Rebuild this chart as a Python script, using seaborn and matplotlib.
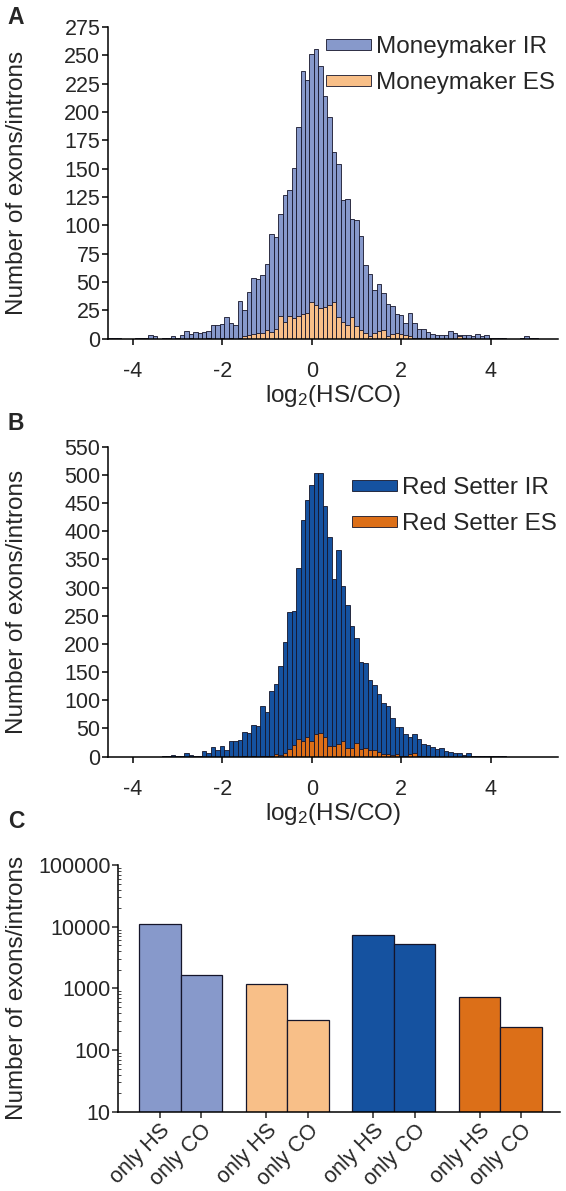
import numpy as np
import pandas as pd
import seaborn as sns
import matplotlib.pyplot as plt
from matplotlib.ticker import FixedLocator, FixedFormatter, LogLocator, NullFormatter

sns.set_style("ticks")
plt.rcParams['font.family'] = ['Liberation Sans', 'DejaVu Sans']
plt.rcParams['mathtext.default'] = 'regular'

# bins of log2(HS/CO), width 0.1, centred on -4.5 ... 5.0
bin_centers = np.round(np.arange(-45, 51) / 10, 1)

# A - Moneymaker
mm_ir = [1, 1, 1, 0, 0, 0, 1, 1, 1, 3,
         2, 0, 1, 1, 2, 1, 3, 7, 4, 6,
         5, 6, 7, 12, 12, 13, 19, 14, 12, 33,
         25, 41, 54, 53, 56, 66, 92, 90, 110, 127,
         131, 151, 187, 236, 228, 251, 256, 241, 214, 196,
         165, 154, 122, 123, 106, 105, 91, 65, 57, 43,
         48, 40, 31, 29, 22, 21, 14, 23, 14, 9,
         9, 6, 4, 3, 3, 3, 7, 5, 3, 3,
         3, 2, 4, 2, 3, 1, 1, 1, 1, 0,
         0, 0, 1, 2, 1, 1]
mm_es = [0, 0, 0, 0, 0, 0, 0, 0, 0, 0,
         0, 0, 0, 0, 0, 0, 0, 0, 1, 0,
         0, 0, 1, 0, 0, 1, 0, 1, 0, 1,
         2, 3, 4, 5, 5, 8, 6, 9, 20, 15,
         20, 18, 20, 22, 23, 32, 30, 27, 28, 30,
         32, 19, 15, 12, 19, 11, 8, 5, 2, 5,
         7, 8, 2, 4, 5, 4, 3, 2, 1, 1,
         0, 1, 0, 1, 0, 0, 0, 0, 2, 1,
         0, 0, 0, 0, 0, 0, 0, 0, 0, 0,
         0, 0, 0, 0, 0, 0]

# B - Red Setter
rs_ir = [0, 0, 0, 0, 0, 0, 0, 0, 0, 0,
         0, 0, 1, 2, 3, 2, 1, 6, 3, 1,
         2, 10, 6, 17, 11, 18, 11, 27, 27, 30,
         44, 42, 56, 54, 90, 80, 117, 128, 160, 204,
         256, 259, 334, 420, 456, 482, 503, 503, 445, 390,
         316, 366, 302, 269, 231, 211, 168, 166, 136, 127,
         112, 95, 89, 68, 52, 53, 40, 34, 40, 31,
         22, 20, 17, 14, 16, 10, 9, 6, 7, 3,
         6, 1, 2, 2, 1, 2, 1, 1, 2, 0,
         0, 0, 0, 0, 0, 0]
rs_es = [0, 0, 0, 0, 0, 0, 0, 0, 0, 0,
         0, 0, 0, 0, 0, 0, 0, 0, 0, 0,
         0, 0, 0, 0, 0, 0, 0, 0, 0, 0,
         2, 0, 1, 0, 1, 1, 2, 4, 3, 7,
         14, 20, 31, 28, 34, 28, 40, 42, 34, 19,
         19, 22, 27, 16, 16, 24, 13, 16, 12, 11,
         9, 5, 5, 3, 4, 1, 2, 5, 6, 2,
         1, 1, 0, 0, 0, 0, 0, 0, 0, 0,
         0, 0, 0, 0, 0, 0, 0, 0, 0, 0,
         0, 0, 0, 0, 0, 0]

# C - exons/introns found in one condition only
c_groups = ['MM IR', 'MM ES', 'RS IR', 'RS ES']
c_only_hs = [11000, 1180, 7400, 730]
c_only_co = [1630, 308, 5300, 240]

col_mm_ir = '#8799CB'
col_mm_es = '#F8BF88'
col_rs_ir = '#1552A0'
col_rs_es = '#DC6F18'
edge = '#15152a'

fig = plt.figure(figsize=(5.66, 11.91), dpi=100)
axA = fig.add_axes([0.1908, 0.7156, 0.795, 0.2617])
axB = fig.add_axes([0.1908, 0.3647, 0.795, 0.2603])
axC = fig.add_axes([0.209, 0.0666, 0.7804, 0.2071])

fs_tick = 15.5
fs_lab = 17.5


def hist_panel(ax, ir, es, c_ir, c_es, lab_ir, lab_es, ymax, ystep, leg_xy):
    d = pd.DataFrame({'x': bin_centers, 'ir': ir, 'es': es})
    sns.histplot(data=d, x='x', weights='ir', binwidth=0.1, binrange=(-4.55, 5.05),
                 color=c_ir, alpha=1, edgecolor=edge, linewidth=0.6, ax=ax, label=lab_ir)
    sns.histplot(data=d, x='x', weights='es', binwidth=0.1, binrange=(-4.55, 5.05),
                 color=c_es, alpha=1, edgecolor=edge, linewidth=0.6, ax=ax, label=lab_es)
    ax.set_xlim(-4.55, 5.5)
    ax.set_ylim(0, ymax)
    ax.set_xticks([-4, -2, 0, 2, 4])
    ax.set_xticklabels(['-4', '-2', '0', '2', '4'])
    ax.set_yticks(list(range(0, ymax + 1, ystep)))
    ax.tick_params(axis='both', labelsize=fs_tick, width=1.1, length=4, color='black')
    ax.tick_params(axis='x', pad=12)
    ax.tick_params(axis='y', pad=1.5)
    ax.set_xlabel('log$_2$(HS/CO)', fontsize=fs_lab, labelpad=1)
    ax.set_ylabel('Number of exons/introns', fontsize=fs_lab)
    ax.yaxis.set_label_coords(-0.178, 0.5)
    for s in ['top', 'right']:
        ax.spines[s].set_visible(False)
    for s in ['left', 'bottom']:
        ax.spines[s].set_linewidth(1.1)
        ax.spines[s].set_color('black')
    ax.legend(loc='upper left', bbox_to_anchor=leg_xy, bbox_transform=fig.transFigure,
              frameon=False, fontsize=fs_lab, handlelength=1.85, handleheight=0.3,
              handletextpad=0.2, labelspacing=0.58, borderpad=0, borderaxespad=0)


hist_panel(axA, mm_ir, mm_es, col_mm_ir, col_mm_es, 'Moneymaker IR', 'Moneymaker ES',
           275, 25, (326 / 566, 1 - 36 / 1191))
hist_panel(axB, rs_ir, rs_es, col_rs_ir, col_rs_es, 'Red Setter IR', 'Red Setter ES',
           550, 50, (352 / 566, 1 - 477 / 1191))

# panel C
dfc = pd.DataFrame({
    'group': c_groups * 2,
    'cond': ['only HS'] * 4 + ['only CO'] * 4,
    'count': c_only_hs + c_only_co,
})
sns.barplot(data=dfc, x='group', y='count', hue='cond', hue_order=['only HS', 'only CO'],
            order=c_groups, width=0.78, ax=axC, legend=False, edgecolor=edge, linewidth=0.9)
axC.set_yscale('log')
axC.set_ylim(10, 100000)
axC.set_xlim(-0.585, 3.56)
group_cols = [col_mm_ir, col_mm_es, col_rs_ir, col_rs_es]
bars = list(axC.patches)
for i, p in enumerate(bars):
    p.set_facecolor(group_cols[i % 4])
    p.set_alpha(1)
centers = sorted(p.get_x() + p.get_width() / 2 for p in bars)
axC.xaxis.set_major_locator(FixedLocator(centers))
axC.xaxis.set_major_formatter(FixedFormatter(['only HS', 'only CO'] * 4))
plt.setp(axC.get_xticklabels(), rotation=45, ha='right', rotation_mode='anchor')
axC.yaxis.set_major_locator(FixedLocator([10, 100, 1000, 10000, 100000]))
axC.yaxis.set_major_formatter(FixedFormatter(['10', '100', '1000', '10000', '100000']))
axC.yaxis.set_minor_locator(LogLocator(base=10, subs=np.arange(2, 10)))
axC.yaxis.set_minor_formatter(NullFormatter())
axC.tick_params(axis='both', which='major', labelsize=fs_tick, width=1.1, length=4)
axC.tick_params(axis='x', pad=2)
axC.tick_params(axis='y', pad=1.5)
axC.tick_params(axis='y', which='minor', direction='in', length=2, width=0.6)
axC.set_xlabel('')
axC.set_ylabel('Number of exons/introns', fontsize=fs_lab)
axC.yaxis.set_label_coords(-0.204, 0.5)
for s in ['top', 'right']:
    axC.spines[s].set_visible(False)
for s in ['left', 'bottom']:
    axC.spines[s].set_linewidth(1.1)
    axC.spines[s].set_color('black')

for lab, y in [('A', 17), ('B', 424), ('C', 822)]:
    fig.text(16 / 566, 1 - y / 1191, lab, fontsize=16.5, fontweight='bold', ha='center', va='center')

fig.savefig('out.png', dpi=100)
